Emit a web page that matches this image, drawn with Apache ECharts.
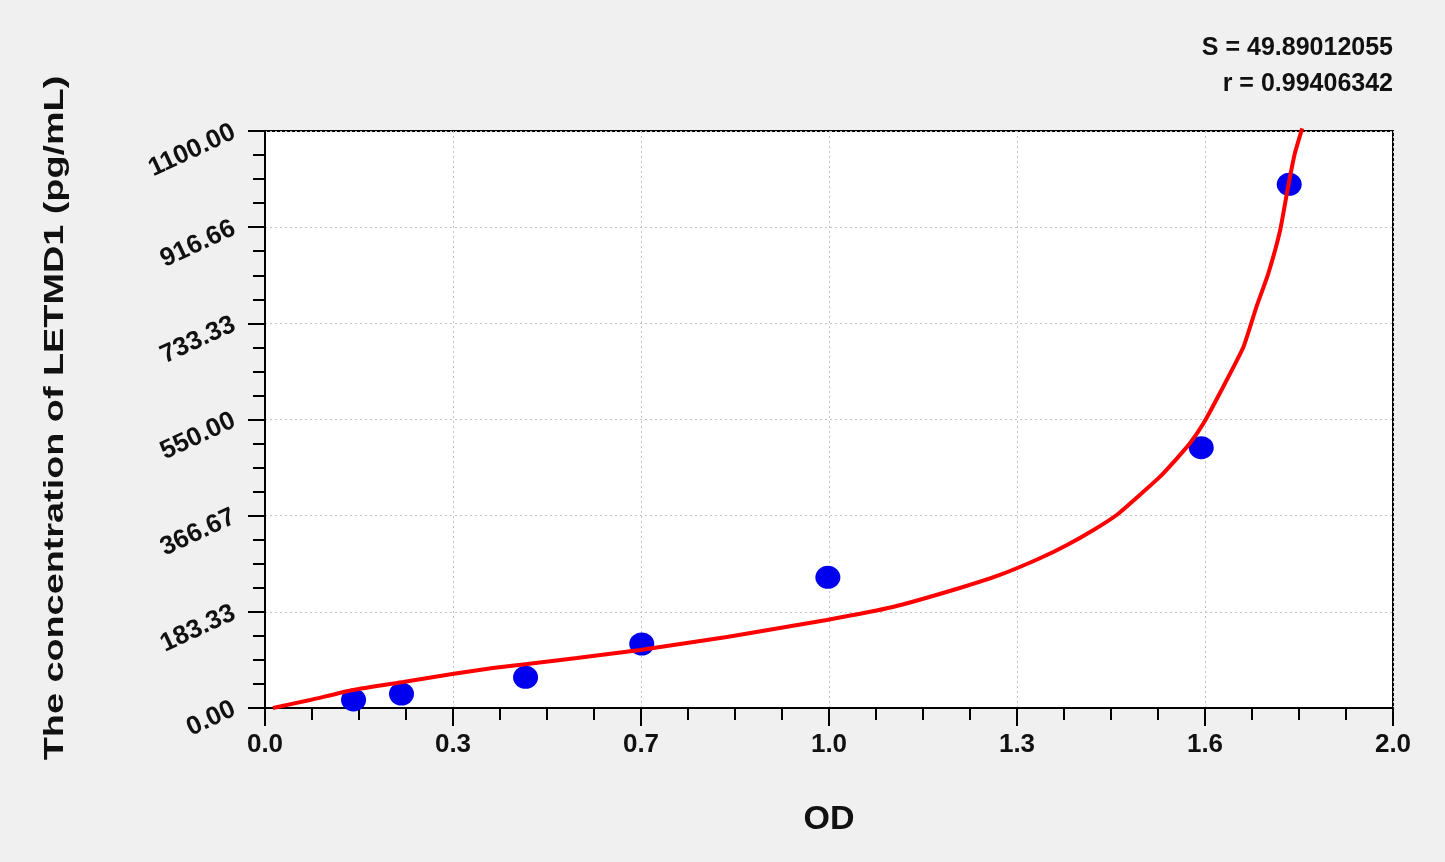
<!DOCTYPE html>
<html>
	<head>
		<meta charset="utf-8">
		<style>
			html,body{
				margin:0;
				height:100%;
				background:#f0f0f0;
			}
			#container{
				width:1445px;
				height:862px;
			}
		</style>
	</head>
	<body>
		<div id="container"></div>
	<script src="https://cdn.jsdelivr.net/npm/echarts@6/dist/echarts.min.js"></script>
	<script>
        // measured points (OD, concentration)
        var pointOD = [0.157, 0.242, 0.462, 0.668, 0.998, 1.660, 1.816];
        var pointConc = [15.3, 26.7, 58.5, 122.0, 249.2, 496.2, 998.4];

        // fitted curve
        var curveOD = [0.014, 0.080, 0.156, 0.245, 0.332, 0.404, 0.465, 0.553, 0.665, 0.819, 0.996, 1.113, 1.232,
            1.303, 1.374, 1.422, 1.469, 1.510, 1.551, 1.587, 1.617, 1.640, 1.664, 1.699, 1.735, 1.758, 1.779,
            1.800, 1.814, 1.826, 1.839];
        var curveConc = [0, 15.3, 34.3, 49.6, 64.8, 76.3, 83.9, 95.3, 110.6, 135.4, 167.8, 192.5, 228.8,
            253.6, 285.4, 310.7, 339.3, 367.9, 406.1, 441.0, 476.0, 504.6, 542.7, 612.5, 688.8, 765.0, 828.7,
            911.3, 993.8, 1057.5, 1105.1];

        var xTickLabels = ['0.0', '0.3', '0.7', '1.0', '1.3', '1.6', '2.0'];
        var yTickLabels = ['0.00', '183.33', '366.67', '550.00', '733.33', '916.66', '1100.00'];

        var font = "'Liberation Sans', Arial, sans-serif";
        var xStep = 2 / 6;
        var yStep = 1100 / 6;

        var myChart = echarts.init(document.getElementById('container'));
        var option = {
            backgroundColor: '#f0f0f0',
            animation: false,
            textStyle: { fontFamily: font },
            grid: {
                left: 265,
                right: 52,
                top: 131,
                bottom: 154,
                show: true,
                backgroundColor: '#ffffff',
                borderColor: '#000000',
                borderWidth: 2
            },
            graphic: [
                {
                    type: 'text',
                    right: 52,
                    top: 36,
                    style: { text: 'S = 49.89012055', font: 'bold 25px ' + font, fill: '#111', textAlign: 'right' }
                },
                {
                    type: 'text',
                    right: 52,
                    top: 72,
                    style: { text: 'r = 0.99406342', font: 'bold 25px ' + font, fill: '#111', textAlign: 'right' }
                },
                {
                    // y axis title, stretched along its length like the original
                    type: 'text',
                    x: 55,
                    y: 418,
                    rotation: Math.PI / 2,
                    scaleX: 1.35,
                    style: {
                        text: 'The concentration of LETMD1 (pg/mL)',
                        font: 'bold 28px ' + font,
                        fill: '#111',
                        textAlign: 'center',
                        textVerticalAlign: 'middle'
                    }
                }
            ],
            xAxis: {
                type: 'value',
                min: 0,
                max: 2,
                interval: xStep,
                name: 'OD',
                nameLocation: 'middle',
                nameGap: 95,
                nameTextStyle: { fontSize: 34, fontWeight: 'bold', color: '#111', fontFamily: font },
                axisLine: { lineStyle: { color: '#000', width: 2 } },
                axisTick: { length: 18, lineStyle: { color: '#000', width: 2 } },
                minorTick: { show: true, splitNumber: 4, length: 12, lineStyle: { color: '#000', width: 2 } },
                axisLabel: {
                    margin: 24,
                    fontSize: 26,
                    fontWeight: 'bold',
                    color: '#111',
                    formatter: function (v) { return xTickLabels[Math.round(v / xStep)]; }
                },
                splitLine: { show: true, lineStyle: { color: '#c4c4c4', type: [2, 3], width: 1 } }
            },
            yAxis: {
                type: 'value',
                min: 0,
                max: 1100,
                interval: yStep,
                axisLine: { lineStyle: { color: '#000', width: 2 } },
                axisTick: { length: 17, lineStyle: { color: '#000', width: 2 } },
                minorTick: { show: true, splitNumber: 4, length: 12, lineStyle: { color: '#000', width: 2 } },
                axisLabel: {
                    margin: 31,
                    fontSize: 26,
                    fontWeight: 'bold',
                    color: '#111',
                    rotate: 25,
                    formatter: function (v) { return yTickLabels[Math.round(v / yStep)]; }
                },
                splitLine: { show: true, lineStyle: { color: '#c4c4c4', type: [2, 3], width: 1 } }
            },
            series: [
                {
                    type: 'line',
                    data: curveOD.map(function (x, i) { return [x, curveConc[i]]; }),
                    showSymbol: false,
                    smooth: 0.15,
                    clip: false,
                    z: 3,
                    lineStyle: { color: '#ff0000', width: 4 }
                },
                {
                    type: 'scatter',
                    data: pointOD.map(function (x, i) { return [x, pointConc[i]]; }),
                    symbol: 'circle',
                    symbolSize: [25, 23],
                    z: 2,
                    itemStyle: { color: '#0000ee', opacity: 1 }
                }
            ]
        };
        myChart.setOption(option, true);
	</script>
	</body>
</html>
